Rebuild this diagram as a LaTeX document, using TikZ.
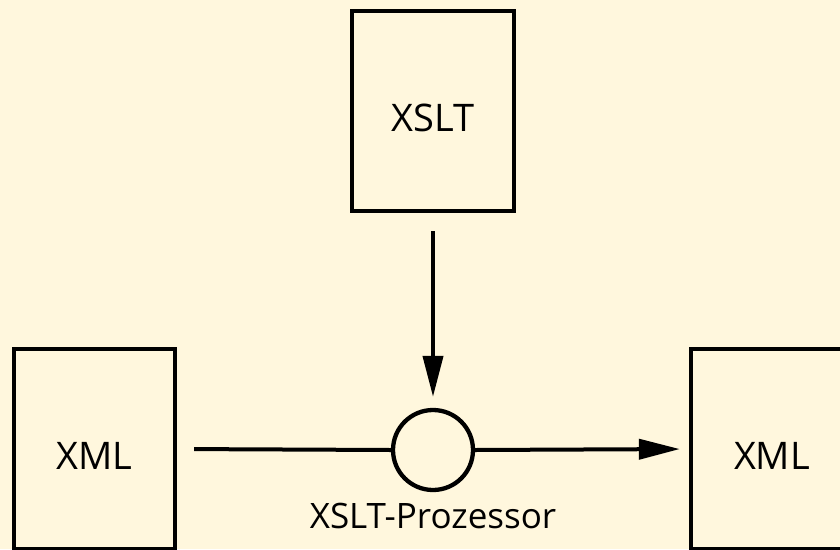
\documentclass[tikz,border=0pt]{standalone}
\usepackage{fontspec}
\setmainfont{Open Sans}
\definecolor{paperyellow}{HTML}{FFF7DD}
\definecolor{inkblack}{HTML}{000000}
\usetikzlibrary{arrows.meta,positioning}
\tikzset{
    docbox/.style={
        draw=inkblack,
        rectangle,
        line width=4.3pt,
        minimum width=162pt,
        minimum height=200pt,
        text height=40pt,
        text depth=0pt,
        align=center,
        font=\fontsize{38}{44}\selectfont
    },
    procnode/.style={
        draw=inkblack,
        circle,
        line width=4.3pt,
        minimum size=80pt,
        inner sep=0pt
    },
    proclabel/.style={
        anchor=base,
        font=\fontsize{35}{42}\selectfont
    },
    flowline/.style={
        draw=inkblack,
        line width=4pt
    },
    flowarrow/.style={
        flowline,
        -{Triangle[length=41pt,width=20pt]}
    }
}
\begin{document}
\begin{tikzpicture}[x=1pt,y=-1pt]
    \fill[paperyellow] (0,0) rectangle (840,549);
    \useasboundingbox (0,0) rectangle (840,549);

    \node[docbox] (xslt) at (433,111) {XSLT};
    \node[docbox,minimum width=161pt] (xmlin) at (94.5,449) {XML};
    \node[docbox] (xmlout) at (772,449) {XML};
    \node[procnode] (proc) at (433,450) {};
    \node[proclabel] (proctext) at (433,528) {XSLT-Prozessor};

    \draw[flowarrow,shorten <=18pt,shorten >=11pt] (xslt.south) -- (proc.north);
    \draw[flowline,shorten <=17pt] (xmlin.east) -- (proc.west);
    \draw[flowarrow,shorten >=9pt] (proc.east) -- (xmlout.west);
\end{tikzpicture}
\end{document}
